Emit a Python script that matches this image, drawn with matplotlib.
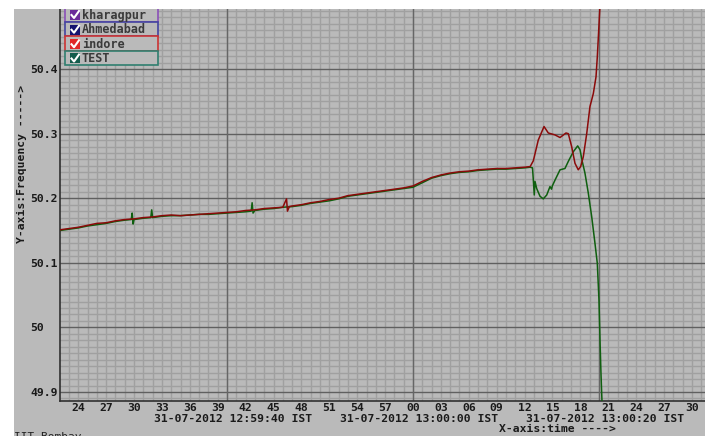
import matplotlib

matplotlib.use("Agg")
import matplotlib.pyplot as plt
from matplotlib.lines import Line2D
from matplotlib.patches import Rectangle
from matplotlib.ticker import FixedLocator, MultipleLocator

# seconds after 31-07-2012 12:59:00 IST, frequency in Hz
INDORE_T = [22.0, 23.0, 24.0, 25.0, 26.0, 27.0, 28.0, 29.0, 30.0, 31.0, 32.0, 33.0,
            34.0, 35.0, 36.0, 37.0, 38.0, 39.0, 40.0, 41.0, 42.0, 43.0, 44.0, 45.0,
            46.0, 46.4, 46.5, 46.7, 47.0, 48.0, 49.0, 50.0, 51.0, 52.0, 53.0, 54.0,
            55.0, 56.0, 57.0, 58.0, 59.0, 60.0, 61.0, 62.0, 63.0, 64.0, 65.0, 66.0,
            67.0, 68.0, 69.0, 70.0, 71.0, 72.0, 72.6, 72.94, 73.47, 74.09, 74.55,
            75.27, 75.81, 76.45, 76.70, 77.06, 77.42, 77.77, 78.03, 78.31, 78.68,
            79.03, 79.39, 79.68, 79.82, 79.97, 80.08, 80.15]
INDORE_F = [50.151, 50.153, 50.155, 50.158, 50.161, 50.162, 50.165, 50.167, 50.168,
            50.170, 50.171, 50.173, 50.174, 50.173, 50.174, 50.175, 50.176, 50.177,
            50.178, 50.179, 50.181, 50.182, 50.184, 50.185, 50.186, 50.199, 50.180,
            50.187, 50.188, 50.190, 50.193, 50.195, 50.198, 50.200, 50.204, 50.206,
            50.208, 50.210, 50.212, 50.214, 50.216, 50.219, 50.226, 50.232, 50.236,
            50.239, 50.241, 50.242, 50.244, 50.245, 50.246, 50.246, 50.247, 50.248,
            50.249, 50.258, 50.290, 50.311, 50.301, 50.298, 50.294, 50.301, 50.300,
            50.280, 50.254, 50.244, 50.249, 50.264, 50.300, 50.342, 50.362, 50.388,
            50.419, 50.460, 50.491, 50.520]

TEST_T = [22.0, 23.0, 24.0, 25.0, 26.0, 27.0, 28.0, 29.0, 29.7, 29.8, 29.9, 30.0,
          31.0, 31.8, 31.9, 32.0, 33.0, 34.0, 35.0, 36.0, 37.0, 38.0, 39.0, 40.0,
          41.0, 42.0, 42.6, 42.7, 42.8, 43.0, 44.0, 45.0, 46.0, 47.0, 48.0, 49.0,
          50.0, 51.0, 52.0, 53.0, 54.0, 55.0, 56.0, 57.0, 58.0, 59.0, 60.0, 61.0,
          62.0, 63.0, 64.0, 65.0, 66.0, 67.0, 68.0, 69.0, 70.0, 71.0, 72.0, 72.6,
          72.85, 72.94, 73.04, 73.12, 73.30, 73.66, 74.01, 74.38, 74.73, 74.90,
          74.98, 75.27, 75.81, 76.34, 76.70, 77.24, 77.71, 77.96, 78.20, 78.49,
          78.85, 79.22, 79.57, 79.82, 80.00, 80.11, 80.22, 80.32, 80.40]
TEST_F = [50.150, 50.152, 50.154, 50.157, 50.159, 50.161, 50.164, 50.166, 50.167,
          50.177, 50.160, 50.167, 50.169, 50.170, 50.182, 50.170, 50.172, 50.173,
          50.173, 50.174, 50.175, 50.175, 50.176, 50.177, 50.178, 50.179, 50.180,
          50.193, 50.177, 50.181, 50.183, 50.184, 50.186, 50.187, 50.189, 50.192,
          50.194, 50.196, 50.199, 50.203, 50.205, 50.207, 50.209, 50.211, 50.213,
          50.215, 50.217, 50.224, 50.231, 50.235, 50.238, 50.240, 50.241, 50.243,
          50.244, 50.245, 50.245, 50.246, 50.247, 50.248, 50.247, 50.228, 50.205,
          50.226, 50.215, 50.203, 50.199, 50.205, 50.218, 50.214, 50.219, 50.228,
          50.244, 50.246, 50.257, 50.272, 50.281, 50.275, 50.257, 50.239, 50.208,
          50.171, 50.130, 50.099, 50.042, 49.980, 49.926, 49.886, 49.850]

X_TICKS = [24, 27, 30, 33, 36, 39, 42, 45, 48, 51, 54, 57, 60, 63, 66, 69, 72, 75,
           78, 81, 84, 87, 90]
X_TICK_LABELS = ["24", "27", "30", "33", "36", "39", "42", "45", "48", "51", "54",
                 "57", "00", "03", "06", "09", "12", "15", "18", "21", "24", "27", "30"]
DATE_TICKS = [40, 60, 80]
DATE_LABELS = ["31-07-2012 12:59:40 IST", "31-07-2012 13:00:00 IST",
               "31-07-2012 13:00:20 IST"]
Y_TICKS = [49.9, 50.0, 50.1, 50.2, 50.3, 50.4]
Y_TICK_LABELS = ["49.9", "50", "50.1", "50.2", "50.3", "50.4"]

LEGEND_NAMES = ["kharagpur", "Ahmedabad", "indore", "TEST"]
LEGEND_EDGES = ["#8a50b8", "#4444a0", "#cc3333", "#2f7f6f"]
LEGEND_FILLS = ["#6a2a9a", "#141470", "#e02828", "#135c4c"]

W, H = 705, 436
BG = "#bababa"
MONO = dict(family="DejaVu Sans Mono", weight="bold", size=8.2, color="#1a1a1a")


def fx(x):
    return x / W


def fy(y):
    return 1 - y / H


fig = plt.figure(figsize=(W / 100, H / 100), dpi=100, facecolor=BG)
ax = fig.add_axes([fx(60), fy(401), 1 - fx(60), (401 - 9) / H])
ax.set_facecolor(BG)
ax.set_xlim(22.04, 91.4)
ax.set_ylim(49.886, 50.493)

ax.xaxis.set_major_locator(FixedLocator(X_TICKS))
ax.xaxis.set_minor_locator(MultipleLocator(1))
ax.yaxis.set_major_locator(FixedLocator(Y_TICKS))
ax.yaxis.set_minor_locator(MultipleLocator(0.01))
ax.set_xticklabels(X_TICK_LABELS, fontdict=MONO)
ax.set_yticklabels(Y_TICK_LABELS, fontdict=MONO, ha="left")
ax.tick_params(axis="x", which="both", length=0, pad=1.5)
ax.tick_params(axis="y", which="both", length=0, pad=21.6)

ax.grid(axis="x", which="both", color="#a0a0a0", lw=1.0)
ax.grid(axis="y", which="minor", color="#a0a0a0", lw=1.0)
ax.grid(axis="y", which="major", color="#606060", lw=1.0)
for t in DATE_TICKS:
    ax.axvline(t, color="#666666", lw=1.0, zorder=1)
ax.set_axisbelow(True)

for side in ("top", "right"):
    ax.spines[side].set_visible(False)
for side in ("left", "bottom"):
    ax.spines[side].set_color("#303030")
    ax.spines[side].set_linewidth(1.2)

ax.plot(TEST_T, TEST_F, color="#0f5f0f", lw=1.1, zorder=3)
ax.plot(INDORE_T, INDORE_F, color="#8b0a0a", lw=1.1, zorder=3)

for t, label in zip(DATE_TICKS, DATE_LABELS):
    ax.annotate(label, xy=(t + 0.6, 0), xycoords=("data", "axes fraction"),
                xytext=(0, -9.4), textcoords="offset points",
                ha="center", va="top", annotation_clip=False, **MONO)

fig.text(fx(22), fy(164), "Y-axis:Frequency ----->", rotation=90,
         ha="center", va="center", **MONO)
fig.text(fx(557), fy(429), "X-axis:time ---->", ha="center", va="center", **MONO)
fig.text(fx(14), fy(432), "IIT Bombay", ha="left", va="top",
         family="DejaVu Sans Mono", size=8, color="#202020")

# station legend boxes in the top-left corner
rows = [(7, 22), (22, 36.5), (36.5, 51), (51, 65)]
for (top, bot), name, edge, fill in zip(rows, LEGEND_NAMES, LEGEND_EDGES, LEGEND_FILLS):
    mid = (top + bot) / 2 + 0.5
    fig.add_artist(Rectangle((fx(65), fy(bot)), fx(158) - fx(65), (bot - top) / H,
                             facecolor=BG, edgecolor=edge, lw=1.2,
                             transform=fig.transFigure, zorder=5))
    fig.add_artist(Rectangle((fx(70), fy(mid + 5)), fx(10), 10 / H,
                             facecolor=fill, edgecolor="none",
                             transform=fig.transFigure, zorder=6))
    fig.add_artist(Line2D([fx(71.5), fx(74), fx(79)], [fy(mid), fy(mid + 3), fy(mid - 4)],
                          color="white", lw=1.5, transform=fig.transFigure, zorder=7))
    fig.text(fx(82), fy(mid), name, ha="left", va="center", zorder=7,
             family="DejaVu Sans Mono", weight="bold", size=8.5, color="#3a3a3a")

# white margin along the top and left edges
fig.add_artist(Rectangle((0, fy(9)), 1, 9 / H, facecolor="white", edgecolor="none",
                         transform=fig.transFigure, zorder=10))
fig.add_artist(Rectangle((0, 0), fx(14), 1, facecolor="white", edgecolor="none",
                         transform=fig.transFigure, zorder=10))

fig.savefig("out.png", dpi=100, facecolor=BG)
